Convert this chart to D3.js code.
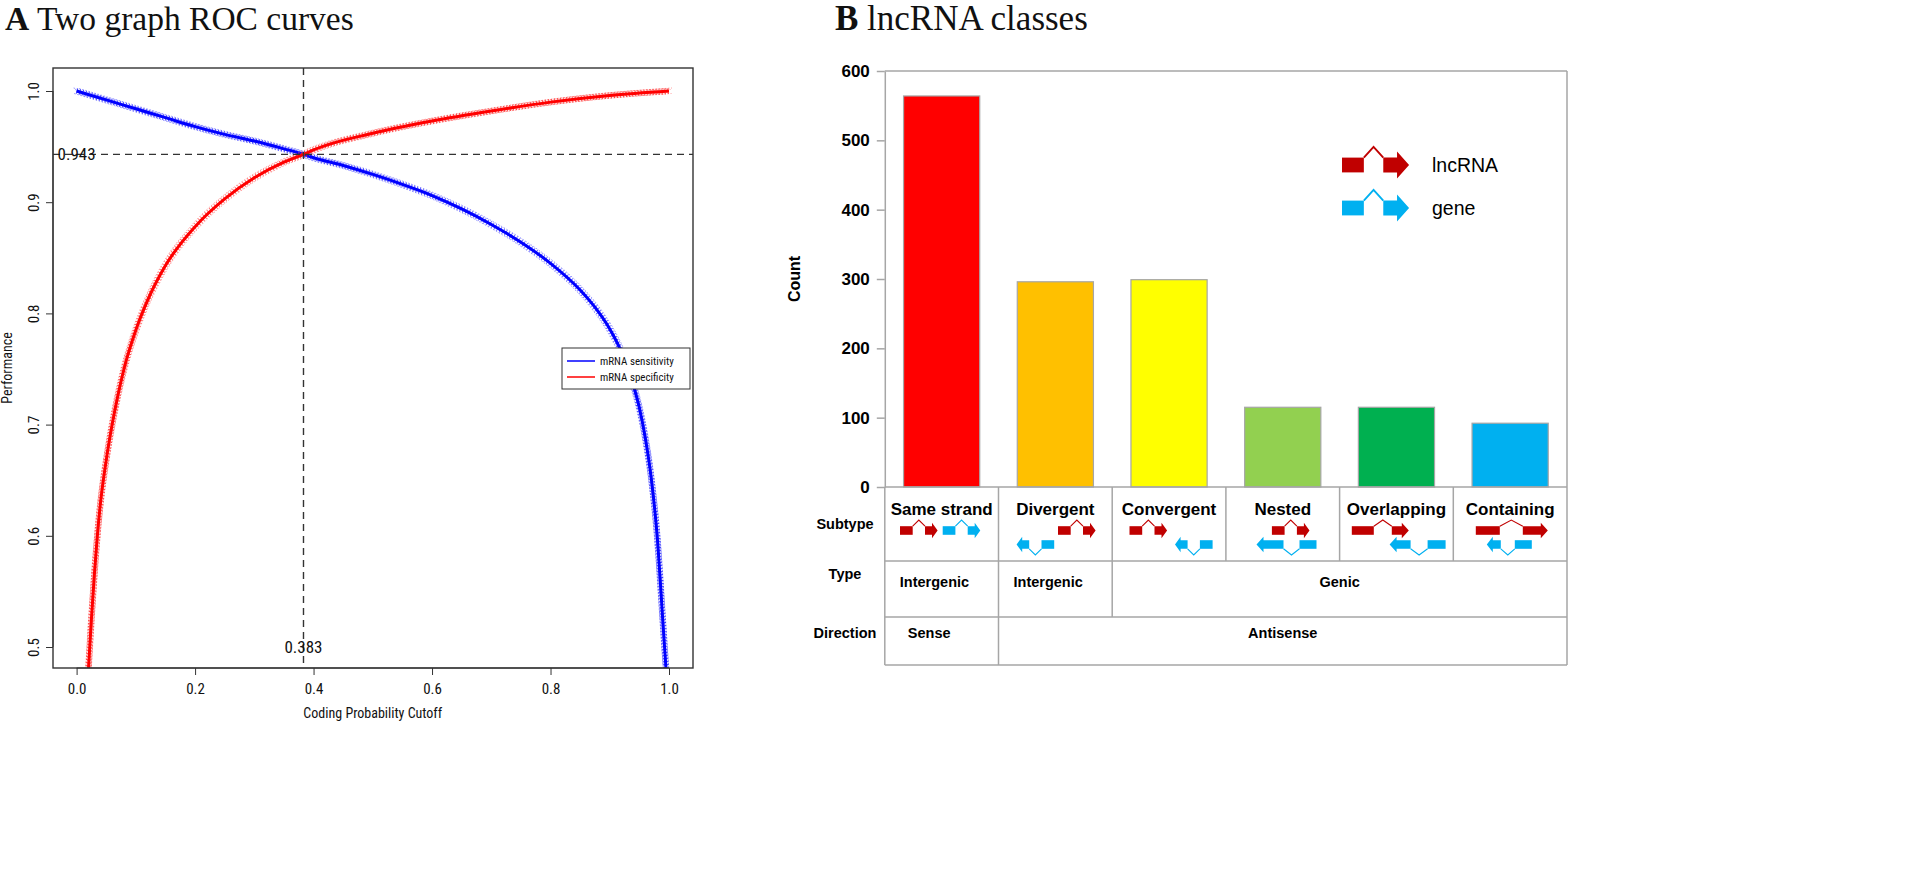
<!DOCTYPE html>
<html><head><meta charset="utf-8">
<script src="https://cdn.jsdelivr.net/npm/d3@7/dist/d3.min.js"></script>
<style>body{margin:0;background:#fff}svg{display:block}</style>
</head><body>
<svg id="chart" width="1929" height="888"></svg>
<script>
// ---------- Panel A data ----------
const sensCutoff = [0,0.05,0.1,0.15,0.2,0.25,0.3,0.35,0.383,0.4,0.45,0.5,0.55,0.6,0.65,0.7,0.75,0.8,0.85,0.88,0.9,0.92,0.94,0.95,0.96,0.97,0.98,0.99,0.995];
const sensValue  = [1.0,0.992,0.984,0.976,0.968,0.961,0.955,0.948,0.943,0.940,0.933,0.925,0.916,0.906,0.894,0.880,0.864,0.845,0.821,0.802,0.786,0.765,0.735,0.715,0.688,0.652,0.600,0.520,0.480];
const specCutoff = [0.02,0.025,0.03,0.035,0.04,0.05,0.06,0.07,0.08,0.1,0.12,0.15,0.2,0.25,0.3,0.35,0.383,0.4,0.5,0.6,0.7,0.8,0.9,1.0];
const specValue  = [0.48,0.525,0.565,0.60,0.628,0.668,0.700,0.727,0.750,0.785,0.812,0.843,0.878,0.903,0.922,0.936,0.943,0.947,0.962,0.973,0.982,0.990,0.996,1.0];
const optimalCutoff = 0.383;
const optimalPerformance = 0.943;
const rocXTicks = [0,0.2,0.4,0.6,0.8,1.0];
const rocYTicks = [0.5,0.6,0.7,0.8,0.9,1.0];
const rocLegend = ["mRNA sensitivity","mRNA specificity"];

// ---------- Panel B data ----------
const classNames = ["Same strand","Divergent","Convergent","Nested","Overlapping","Containing"];
const classCounts = [564,296,299,115,115,92];
const countTicks = [0,100,200,300,400,500,600];
const rowLabels = ["Subtype","Type","Direction"];
const typeLabels = ["Intergenic","Intergenic","Genic"];
const typeSpans = [1,1,4];
const directionLabels = ["Sense","Antisense"];
const directionSpans = [1,5];
const geneLegend = ["lncRNA","gene"];

// ---------- styles / layout ----------
const barColors = ["#FF0000","#FFC000","#FFFF00","#92D050","#00B050","#00B0F0"];
const LNC = "#C00000", GENE = "#00B0F0";
const svg = d3.select("#chart");
const narrow = "'Liberation Sans Narrow','Roboto Condensed','Liberation Sans',sans-serif";
const arial = "'Liberation Sans',Arial,sans-serif";
const serif = "'Liberation Serif','Times New Roman',serif";

// Titles
function title(x, letter, rest, size){
  const t = svg.append("text").attr("x",x).attr("y",30).attr("font-family",serif).attr("font-size",size).attr("fill","#111");
  t.append("tspan").attr("font-weight","bold").text(letter);
  t.append("tspan").text(" "+rest);
}
title(5,"A","Two graph ROC curves",33.5);
title(835,"B","lncRNA classes",35);

// ---------- Panel A ----------
const box = {l:53, r:693, t:68, b:668};
const xA = d3.scaleLinear().domain([0,1]).range([76.6,669]);
const yA = d3.scaleLinear().domain([0.5,1.0]).range([647,91]);
const gA = svg.append("g");
const clip = svg.append("defs").append("clipPath").attr("id","clipA");
clip.append("rect").attr("x",box.l).attr("y",box.t).attr("width",box.r-box.l).attr("height",box.b-box.t);

const line = d3.line().x(d=>xA(d[0])).y(d=>yA(d[1])).curve(d3.curveMonotoneX);
const sens = sensCutoff.map((c,i)=>[c,sensValue[i]]);
const spec = specCutoff.map((c,i)=>[c,specValue[i]]);
const curves = gA.append("g").attr("clip-path","url(#clipA)");
const foldShift = [[-3,-3],[-1.5,-1.5],[1.5,1.5],[3,3],[2.5,-2.5],[-2.5,2.5]];
[[sens,"#0000FF","#5a5aff",1],[spec,"#FF0000","#ff5a5a",-1]].forEach(([d,c,lc,sgn])=>{
  foldShift.forEach(([ox,oy])=>{
    curves.append("path").attr("d",line(d)).attr("fill","none").attr("stroke",lc)
      .attr("stroke-width",1).attr("stroke-dasharray","1.6,1.6").attr("opacity",0.6)
      .attr("transform",`translate(${ox},${oy*sgn})`);
  });
  curves.append("path").attr("d",line(d)).attr("fill","none").attr("stroke",c).attr("stroke-width",3);
  curves.append("path").attr("d",line(d)).attr("fill","none").attr("stroke",c).attr("stroke-width",6)
    .attr("stroke-dasharray","0.8,2.2").attr("opacity",0.7);
});

// dashed reference lines
gA.append("line").attr("x1",box.l).attr("x2",box.r).attr("y1",yA(optimalPerformance)).attr("y2",yA(optimalPerformance))
  .attr("stroke","#333").attr("stroke-width",1.4).attr("stroke-dasharray","7,5");
gA.append("line").attr("x1",xA(optimalCutoff)).attr("x2",xA(optimalCutoff)).attr("y1",box.t).attr("y2",box.b)
  .attr("stroke","#333").attr("stroke-width",1.4).attr("stroke-dasharray","7,5");
gA.append("text").attr("x",xA(0)).attr("y",yA(optimalPerformance)).attr("dy","0.35em").attr("text-anchor","middle")
  .attr("font-family",narrow).attr("font-size",17).attr("fill","#111").text(optimalPerformance.toFixed(3));
gA.append("text").attr("x",xA(optimalCutoff)).attr("y",yA(0.5)).attr("dy","0.35em").attr("text-anchor","middle")
  .attr("font-family",narrow).attr("font-size",17).attr("fill","#111").text(optimalCutoff.toFixed(3));

// box
gA.append("rect").attr("x",box.l).attr("y",box.t).attr("width",box.r-box.l).attr("height",box.b-box.t)
  .attr("fill","none").attr("stroke","#333").attr("stroke-width",1.4);

// axes
const axB = gA.append("g").attr("transform",`translate(0,${box.b})`)
  .call(d3.axisBottom(xA).tickValues(rocXTicks).tickFormat(d3.format(".1f")).tickSize(7).tickSizeOuter(0));
axB.select(".domain").attr("d",`M${xA(0)},0H${xA(1)}`).attr("stroke","#333");
axB.selectAll("text").attr("font-family",narrow).attr("font-size",15).attr("fill","#111").attr("dy","1.05em");
axB.selectAll("line").attr("stroke","#333");
const axL = gA.append("g").attr("transform",`translate(${box.l},0)`)
  .call(d3.axisLeft(yA).tickValues(rocYTicks).tickFormat(d3.format(".1f")).tickSize(7).tickSizeOuter(0));
axL.select(".domain").attr("d",`M0,${yA(0.5)}V${yA(1)}`).attr("stroke","#333");
axL.selectAll("line").attr("stroke","#333");
axL.selectAll("text").attr("font-family",narrow).attr("font-size",15).attr("fill","#111")
  .attr("text-anchor","middle").attr("x",0).attr("dy",0)
  .attr("transform",`translate(-14,0) rotate(-90)`);
gA.append("text").attr("x",xA(0.5)).attr("y",718).attr("text-anchor","middle").attr("font-family",narrow)
  .attr("font-size",14).attr("fill","#111").text("Coding Probability Cutoff");
gA.append("text").attr("transform",`translate(12,${(box.t+box.b)/2}) rotate(-90)`).attr("text-anchor","middle")
  .attr("font-family",narrow).attr("font-size",14).attr("fill","#111").text("Performance");

// legend A
const lg = gA.append("g").attr("transform","translate(562,348)");
lg.append("rect").attr("width",128).attr("height",41).attr("fill","#fff").attr("stroke","#333").attr("stroke-width",1);
rocLegend.forEach((t,i)=>{
  const yy = 13+i*16;
  lg.append("line").attr("x1",5).attr("x2",33).attr("y1",yy).attr("y2",yy).attr("stroke",i?"#FF0000":"#0000FF").attr("stroke-width",1.5);
  lg.append("text").attr("x",38).attr("y",yy).attr("dy","0.35em").attr("font-family",narrow).attr("font-size",11).attr("fill","#111").text(t);
});

// ---------- Panel B ----------
const plot = {l:884.8, r:1567, t:71, b:487};
const tbl = {sub:561, type:617, dir:665};
const xB = d3.scaleBand().domain(classNames).range([plot.l,plot.r]).paddingInner(0).paddingOuter(0);
const yB = d3.scaleLinear().domain([0,600]).range([plot.b,plot.t]);
const gB = svg.append("g");
const grid = "#A6A6A6";

gB.selectAll("rect.bar").data(classNames).join("rect").attr("class","bar")
  .attr("x",d=>xB(d)+xB.bandwidth()*0.165).attr("width",xB.bandwidth()*0.67)
  .attr("y",(d,i)=>yB(classCounts[i])).attr("height",(d,i)=>yB(0)-yB(classCounts[i]))
  .attr("fill",(d,i)=>barColors[i]).attr("stroke",grid).attr("stroke-width",1.2);

const axY = gB.append("g").attr("transform",`translate(${plot.l},0)`)
  .call(d3.axisLeft(yB).tickValues(countTicks).tickSize(8).tickSizeOuter(0));
axY.select(".domain").attr("stroke",grid).attr("stroke-width",1.5);
axY.selectAll("line").attr("stroke",grid).attr("stroke-width",1.5);
axY.selectAll("text").attr("font-family",arial).attr("font-weight","bold").attr("font-size",17).attr("fill","#000").attr("x",-15);
gB.append("text").attr("transform",`translate(800,${(plot.t+plot.b)/2}) rotate(-90)`).attr("text-anchor","middle")
  .attr("font-family",arial).attr("font-weight","bold").attr("font-size",16).text("Count");

// frame + table lines
const L = (x1,y1,x2,y2)=>gB.append("line").attr("x1",x1).attr("y1",y1).attr("x2",x2).attr("y2",y2).attr("stroke",grid).attr("stroke-width",1.5);
L(plot.l,plot.t,plot.r,plot.t); L(plot.r,plot.t,plot.r,tbl.dir);
L(plot.l,plot.b,plot.r,plot.b); L(plot.l,plot.b,plot.l,tbl.dir);
L(plot.l,tbl.sub,plot.r,tbl.sub); L(plot.l,tbl.type,plot.r,tbl.type); L(plot.l,tbl.dir,plot.r,tbl.dir);
classNames.slice(1).forEach(c=>L(xB(c),plot.b,xB(c),tbl.sub));
let acc=0; typeSpans.forEach((s,i)=>{ if(i>0) L(xB(classNames[acc]),tbl.sub,xB(classNames[acc]),tbl.type); acc+=s; });
acc=0; directionSpans.forEach((s,i)=>{ if(i>0) L(xB(classNames[acc]),tbl.type,xB(classNames[acc]),tbl.dir); acc+=s; });

// table text
gB.selectAll("text.cat").data(classNames).join("text").attr("class","cat")
  .attr("x",d=>xB(d)+xB.bandwidth()/2).attr("y",509).attr("dy","0.35em").attr("text-anchor","middle")
  .attr("font-family",arial).attr("font-weight","bold").attr("font-size",17).text(d=>d);
const rowY = [524,574,633];
rowLabels.forEach((t,i)=>gB.append("text").attr("x",845).attr("y",rowY[i]).attr("dy","0.35em").attr("text-anchor","middle")
  .attr("font-family",arial).attr("font-weight","bold").attr("font-size",14.5).text(t));
function spanRow(labels, spans, y, pad){
  let a=0;
  labels.forEach((t,i)=>{
    const x0 = xB(classNames[a]), x1 = x0 + spans[i]*xB.bandwidth();
    const single = spans[i]===1;
    gB.append("text").attr("x",single?x0+pad:(x0+x1)/2).attr("y",y).attr("dy","0.35em")
      .attr("text-anchor",single?"start":"middle").attr("font-family",arial).attr("font-weight","bold")
      .attr("font-size",14.5).text(t);
    a+=spans[i];
  });
}
spanRow(typeLabels,typeSpans,582,15);
spanRow(directionLabels,directionSpans,633,23);

// gene glyphs
function glyph(g, x, y, o, color, s){
  const bh=4.3*s, hh=7.8*s, cp=6.2*s;
  const e1=o.e1*s, i=o.i*s, e2=o.e2*s, h=o.h*s;
  if(o.dir>0){
    g.append("rect").attr("x",x).attr("y",y-bh).attr("width",e1).attr("height",2*bh).attr("fill",color);
    g.append("polyline").attr("points",`${x+e1},${y-bh} ${x+e1+i/2},${y-bh-cp} ${x+e1+i},${y-bh}`).attr("fill","none").attr("stroke",color).attr("stroke-width",1.1*s);
    const a=x+e1+i;
    g.append("polygon").attr("points",`${a},${y-bh} ${a+e2},${y-bh} ${a+e2},${y-hh} ${a+e2+h},${y} ${a+e2},${y+hh} ${a+e2},${y+bh} ${a},${y+bh}`).attr("fill",color);
  } else {
    g.append("polygon").attr("points",`${x},${y} ${x+h},${y-hh} ${x+h},${y-bh} ${x+h+e2},${y-bh} ${x+h+e2},${y+bh} ${x+h},${y+bh} ${x+h},${y+hh}`).attr("fill",color);
    const a=x+h+e2;
    g.append("polyline").attr("points",`${a},${y+bh} ${a+i/2},${y+bh+cp} ${a+i},${y+bh}`).attr("fill","none").attr("stroke",color).attr("stroke-width",1.1*s);
    g.append("rect").attr("x",a+i).attr("y",y-bh).attr("width",e1).attr("height",2*bh).attr("fill",color);
  }
}
const lanes = [530.5,544.5];
const small = {e1:12.7,i:12.3,e2:7,h:5.6};
const glyphLayout = [
  [{c:LNC,dir:1,lane:0,x:15.2,...small},{c:GENE,dir:1,lane:0,x:57.9,...small}],
  [{c:GENE,dir:-1,lane:1,x:18.1,...small},{c:LNC,dir:1,lane:0,x:59.5,...small}],
  [{c:LNC,dir:1,lane:0,x:17.3,...small},{c:GENE,dir:-1,lane:1,x:62.8,...small}],
  [{c:GENE,dir:-1,lane:1,x:30.6,e1:17,i:16,e2:20,h:7},{c:LNC,dir:1,lane:0,x:46,...small}],
  [{c:LNC,dir:1,lane:0,x:12.2,e1:22,i:18,e2:10,h:7},{c:GENE,dir:-1,lane:1,x:50,e1:18,i:17,e2:14,h:7}],
  [{c:LNC,dir:1,lane:0,x:22.5,e1:24,i:23,e2:18,h:7},{c:GENE,dir:-1,lane:1,x:33.5,e1:17,i:14,e2:8,h:6}]
];
const gG = gB.append("g");
classNames.forEach((c,ci)=>glyphLayout[ci].forEach(o=>glyph(gG, xB(c)+o.x, lanes[o.lane], o, o.c, 1)));

// legend B
geneLegend.forEach((t,i)=>{
  const y = 165 + i*43;
  glyph(gB, 1342, y, {dir:1,e1:12.7,i:11.3,e2:8,h:7}, i?GENE:LNC, 1.72);
  gB.append("text").attr("x",1432).attr("y",y).attr("dy","0.35em").attr("font-family",arial).attr("font-size",19.5).text(t);
});
</script>
</body></html>
